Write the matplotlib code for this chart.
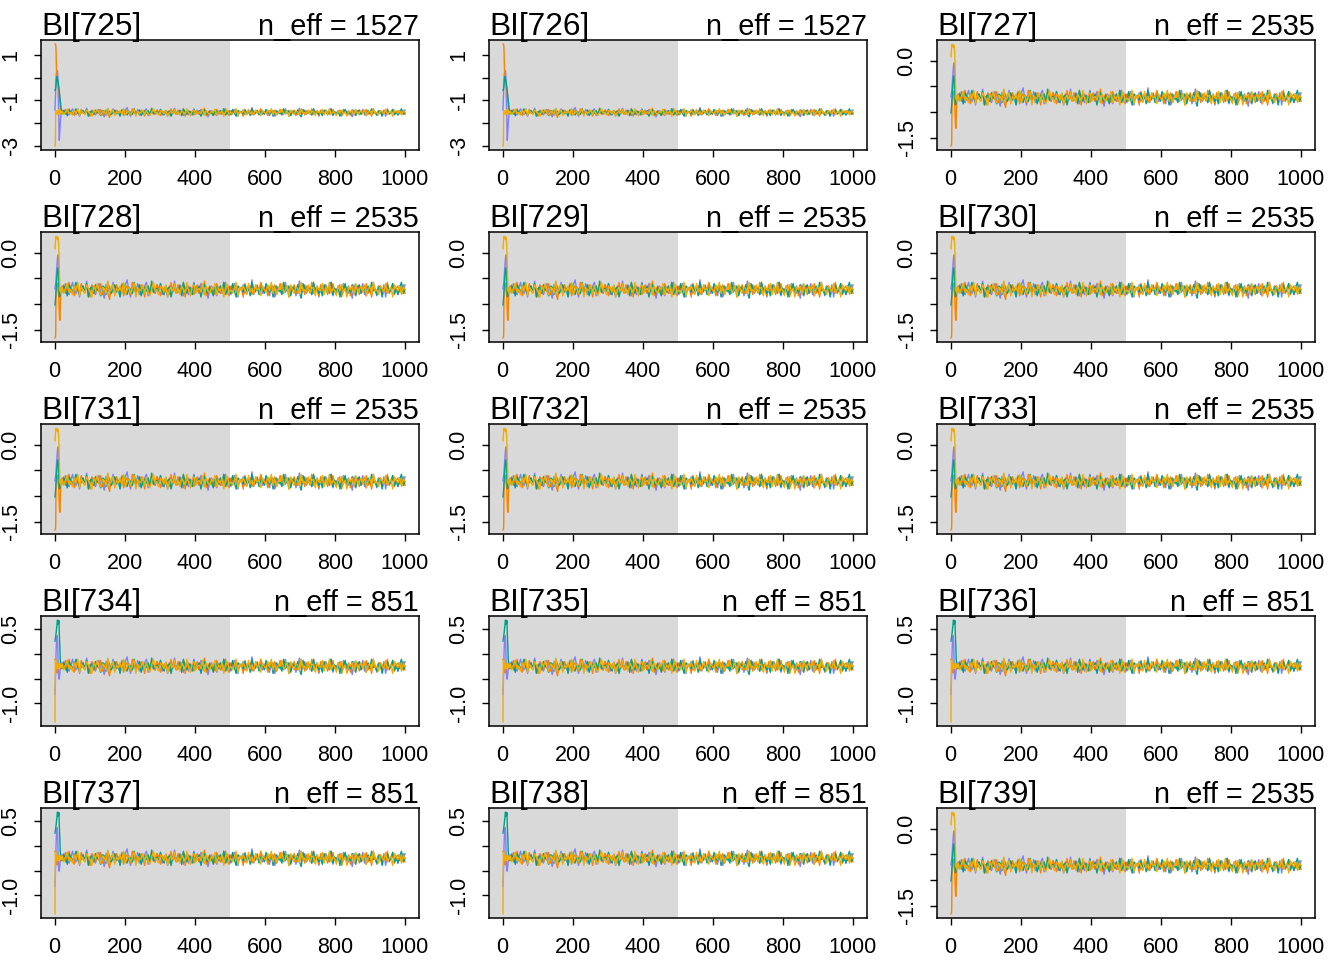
import numpy as np
import matplotlib.pyplot as plt

plt.rcParams['font.family'] = ['Liberation Sans', 'DejaVu Sans']
plt.rcParams['axes.unicode_minus'] = False

# panels, in reading order
params = ['BI[725]', 'BI[726]', 'BI[727]', 'BI[728]', 'BI[729]',
          'BI[730]', 'BI[731]', 'BI[732]', 'BI[733]', 'BI[734]',
          'BI[735]', 'BI[736]', 'BI[737]', 'BI[738]', 'BI[739]']
n_eff = [1527, 1527, 2535, 2535, 2535, 2535, 2535, 2535, 2535,
         851, 851, 851, 851, 851, 2535]
group = ['A', 'A', 'B', 'B', 'B', 'B', 'B', 'B', 'B',
         'C', 'C', 'C', 'C', 'C', 'B']

n_iter = 1000
n_warmup = 500

# first 20 iterations of every chain
warm_a_blue = [-1.43, -1.0, -0.5, 0.0, 0.2, 0.3, 0.25, 0.3, 0.1, -0.5,
               -1.2, -2.0, -2.75, -2.6, -2.3, -2.0, -1.8, -1.6, -1.5, -1.55]
warm_a_orange = [1.48, 1.48, 1.45, 1.2, 0.5, 0.05, -0.05, -0.1, -0.2, -0.35,
                 -0.4, -0.5, -0.7, -0.9, -1.1, -1.25, -1.35, -1.45, -1.5, -1.55]
warm_a_green = [-0.55, -0.5, -0.45, -0.3, -0.1, 0.0, 0.05, -0.05, -0.1, -0.2,
                -0.3, -0.45, -0.55, -0.7, -0.85, -1.0, -1.15, -1.3, -1.4, -1.5]
warm_a_yellow = [-3.0, -3.0, -1.45, -1.5, -1.6, -1.5, -1.55, -1.45, -1.6, -1.5,
                 -1.55, -1.4, -1.6, -1.5, -1.45, -1.55, -1.6, -1.5, -1.52, -1.5]

warm_b_blue = [-0.7, -0.65, -0.6, -0.5, -0.4, -0.3, -0.2, -0.1, -0.05, -0.04,
               -0.2, -0.5, -0.7, -0.8, -0.75, -0.7, -0.72, -0.68, -0.74, -0.7]
warm_b_orange = [-1.665, -1.66, -1.6, -0.7, -0.65, -0.7, -0.6, -0.65, -0.7, -0.75,
                 -0.8, -0.95, -1.15, -1.3, -1.32, -1.1, -0.85, -0.7, -0.68, -0.72]
warm_b_green = [-1.02, -0.95, -0.85, -0.75, -0.6, -0.5, -0.4, -0.32, -0.29, -0.3,
                -0.45, -0.65, -0.8, -0.86, -0.8, -0.75, -0.7, -0.72, -0.7, -0.73]
warm_b_yellow = [0.08, 0.2, 0.31, 0.33, 0.28, 0.3, 0.32, 0.26, 0.27, 0.3,
                 0.22, 0.1, -0.2, -0.5, -0.7, -0.75, -0.68, -0.72, -0.8, -0.7]

warm_c_blue = [-0.82, -0.6, -0.3, 0.0, 0.2, 0.3, 0.37, 0.3, 0.1, -0.2,
               -0.4, -0.5, -0.51, -0.45, -0.35, -0.3, -0.25, -0.2, -0.27, -0.24]
warm_c_orange = [-0.11, -0.1, -0.12, -0.35, -0.38, -0.36, -0.38, -0.3, -0.28, -0.25,
                 -0.3, -0.22, -0.26, -0.28, -0.2, -0.25, -0.3, -0.22, -0.27, -0.24]
warm_c_green = [0.26, 0.3, 0.35, 0.42, 0.5, 0.55, 0.62, 0.688, 0.6, 0.66,
                0.62, 0.68, 0.5, 0.3, 0.1, -0.1, -0.2, -0.28, -0.22, -0.26]
warm_c_yellow = [-1.377, -0.15, -0.12, -0.2, -0.18, -0.25, -0.3, -0.22, -0.2, -0.28,
                 -0.25, -0.2, -0.3, -0.24, -0.22, -0.28, -0.25, -0.2, -0.27, -0.25]

# settled part: level of each group and the wiggle of each chain
level = {'A': -1.53, 'B': -0.72, 'C': -0.25}
wiggle_size = {'A': 0.027, 'B': 0.024, 'C': 0.024}

wiggle_blue = [
    3, -2, 5, 0, -4, 1, 6, -1, -3, 2, -6, 4, 0, -2, 7, -5, 1, 3, -1, -4, 2, 5, -3, 0, -7, 4, 1, -2,
    -1, 6, -3, 2, 0, -5, 3, -2, 4, 8, -1, -6, 2, 0, -3, 5, -4, 1, -2, 3, 6, -5, 0, 2, -1, -3, 4, -2,
    5, -4, 1, 0, -6, 3, 2, -1, 7, -3, -2, 4, 0, -5, 1, 3, -4, 2, -1, 6, -2, 0, -3, 5, 1, -4, 2, -7,
    0, 3, -1, 4, -5, 2, 1, -3, 6, 0, -2, 3, -4, 1, 5, -1, -6, 2, 0, 4, -3, -1, 3, -2, 8, -4, 0, 1,
    -2, 5, -3, 0, 4, -1, -5, 2, 3, -6, 1, 0, -2, 4, -3, 6, -1, 2, -4, 0, 3, -5, 1, 7, -2, -1, 4, -3,
    2, 0, -4, 5, -1, 3, -6, 1, 2, -2, 4, 0, -3, 6, -5, 1, -1, 3, -2, -4, 5, 0, 2, -3, 1, -7, 4, -1,
    0, 3, -2, 5, -4, 1, 2, -1, -3, 6, 0, -5, 3, 1, -2, 4, -6, 2, 0, -1, 5, -3, 1, -4, 3, 0, -2, 4]
wiggle_orange = [
    -1, 4, -3, 2, 6, -2, 0, -5, 3, 1, -4, 5, -1, -2, 3, 0, -6, 4, 2, -3, 1, -1, 5, -4, 0, 3, -2, -8,
    2, 1, -3, 4, 0, -2, 5, -5, 1, 3, -1, -4, 6, 0, -2, 2, -3, 4, 1, -6, 3, -1, 0, 5, -2, -3, 4, 1,
    -5, 2, 0, 3, -1, -4, 6, -2, 1, -3, 4, 0, -1, 5, -6, 2, 3, -2, 0, -4, 1, 4, -3, 2, -1, 7, -5, 0,
    3, -2, 1, -4, 5, 0, -3, 2, -1, 6, -2, -5, 3, 1, -1, 4, -3, 0, 2, -6, 5, -1, 0, 3, -4, 1, -2, 4,
    -3, 6, 0, -1, 2, -5, 3, 1, -2, 4, -4, 0, 5, -3, 1, -1, 3, -6, 2, 0, 4, -2, -3, 5, -1, 1, -4, 3,
    0, -2, 6, -3, 1, 2, -5, 4, -1, 0, 3, -4, 2, -2, 5, -1, -3, 1, 4, -6, 0, 2, -1, 3, -5, 4, 1, -2,
    3, -4, 0, 2, -1, 5, -3, 1, -6, 4, 0, -2, 3, 1, -5, 2, -1, 6, -3, 0, 2, -4, 1, 3, -2, -1, 4, -3]
wiggle_green = [
    -2, 3, 0, -5, 4, 1, -3, 2, 6, -1, -4, 0, 3, -2, 5, -6, 1, 2, -3, 4, 0, -1, -5, 3, 2, -4, 6, 1,
    -3, 0, 4, -2, 1, -6, 3, 5, -1, -4, 2, 0, -3, 6, -2, 1, 4, -5, 0, 2, -1, 3, -4, 7, -2, 0, 1, -3,
    5, -1, -4, 3, 0, 2, -6, 1, 4, -2, -1, 3, -5, 6, 0, -3, 2, 1, -4, 5, -2, 0, 3, -6, 1, 4, -1, -3,
    2, 0, -5, 4, 1, -2, 3, -1, 6, -4, 0, 2, -3, 5, -1, -6, 3, 1, 0, -2, 4, -3, 2, -5, 6, 0, -1, 3,
    -4, 1, 2, -3, 5, 0, -2, 4, -6, 1, 3, -1, 0, -4, 6, -2, 1, 3, -5, 2, 0, -1, 4, -3, -7, 5, 1, -2,
    3, 0, -4, 6, -1, 2, -3, 1, -5, 4, 0, -2, 3, 6, -4, 1, -1, 2, -6, 3, 0, 5, -3, 1, -2, 4, -1, -5,
    2, 4, -3, 0, 1, -5, 3, -2, 6, -1, 0, -4, 2, 3, -6, 1, -1, 4, -2, 0, 5, -3, 1, -4, 2, 6, -3, 0]
wiggle_yellow = [
    2, -3, 1, 5, -2, 0, -4, 3, -1, 6, -5, 2, 0, -3, 4, 1, -2, -6, 3, 0, 5, -1, -4, 2, 1, -3, 7, -2,
    0, 4, -5, 1, -1, 3, -2, 6, -4, 0, 2, -3, 1, 5, -6, 2, -1, 0, 4, -3, 3, -2, -5, 1, 6, -1, 0, -4,
    3, 1, -2, 4, -6, 0, 2, -1, 5, -3, 1, -4, 3, 0, -2, 6, -1, -5, 2, 4, -3, 0, 1, -2, 5, -4, 3, -1,
    -3, 2, 0, 5, -4, 1, -1, 3, -6, 2, 4, -2, 0, -3, 1, 6, -5, 2, -1, 3, 0, -4, 5, -2, 1, -3, 4, 0,
    1, -5, 3, 0, -2, 4, -1, 6, -3, 2, -4, 1, 0, 5, -2, -1, 3, -6, 4, 0, -3, 2, 1, -4, 6, -1, 0, -2,
    4, -3, 1, 2, -5, 3, 0, -1, 5, -4, 2, -2, 6, -3, 1, 0, -5, 3, -1, 4, -2, 1, -6, 2, 0, 3, -4, 5,
    -1, 0, 3, -2, 4, -5, 1, 2, -3, 6, -1, 0, -4, 3, 1, -2, 5, -3, 0, 2, -6, 4, 1, -1, 3, -4, 2, 0]

warm = {
    'A': {'blue': warm_a_blue, 'orange': warm_a_orange,
          'green': warm_a_green, 'yellow': warm_a_yellow},
    'B': {'blue': warm_b_blue, 'orange': warm_b_orange,
          'green': warm_b_green, 'yellow': warm_b_yellow},
    'C': {'blue': warm_c_blue, 'orange': warm_c_orange,
          'green': warm_c_green, 'yellow': warm_c_yellow},
}
wiggle = {'blue': wiggle_blue, 'orange': wiggle_orange,
          'green': wiggle_green, 'yellow': wiggle_yellow}
chain_col = {'blue': '#8080FF', 'orange': '#F98400',
             'green': '#00A08A', 'yellow': '#F2AD00'}
draw_order = ['blue', 'orange', 'green', 'yellow']

# y ticks per group: (positions, labels)
yticks = {
    'A': ([-3, -2, -1, 0, 1], ['-3', '', '-1', '', '1']),
    'B': ([-1.5, -1.0, -0.5, 0.0], ['-1.5', '', '', '0.0']),
    'C': ([-1.0, -0.5, 0.0, 0.5], ['-1.0', '', '', '0.5']),
}

W, H = 1344, 960
fig = plt.figure(figsize=(W / 100, H / 100), dpi=100)
box_left = [41, 489, 937]
box_top = [40, 232, 424, 616, 808]
box_w, box_h = 378, 110

for i, name in enumerate(params):
    r, c = divmod(i, 3)
    g = group[i]
    ax = fig.add_axes([box_left[c] / W, 1 - (box_top[r] + box_h) / H,
                       box_w / W, box_h / H])

    lo, hi = np.inf, -np.inf
    for ch in draw_order:
        first = np.array(warm[g][ch])
        rest = level[g] + wiggle_size[g] * np.array(wiggle[ch])
        x = np.concatenate([np.arange(1, len(first) + 1),
                            np.linspace(len(first) + 1, n_iter, len(rest))])
        y = np.concatenate([first, rest])
        ax.plot(x, y, color=chain_col[ch], lw=1.0)
        lo, hi = min(lo, y.min()), max(hi, y.max())

    pad = 0.04 * (hi - lo)
    ax.set_ylim(lo - pad, hi + pad)
    xpad = 0.04 * (n_iter - 1)
    ax.set_xlim(1 - xpad, n_iter + xpad)
    ax.axvspan(1 - xpad, n_warmup, color='#D9D9D9', lw=0, zorder=0)

    ax.set_xticks([0, 200, 400, 600, 800, 1000])
    pos, labs = yticks[g]
    ax.set_yticks(pos)
    ax.set_yticklabels(labs, rotation=90, va='center')
    ax.tick_params(direction='out', length=5, width=1, labelsize=15.5, pad=9)
    for s in ax.spines.values():
        s.set_linewidth(1.1)

    ax.text(0, 1.045, name, transform=ax.transAxes, ha='left',
            va='baseline', fontsize=22.8)
    ax.text(1, 1.045, f'n_eff = {n_eff[i]}', transform=ax.transAxes,
            ha='right', va='baseline', fontsize=20.8)

fig.savefig('out.png', dpi=100)
